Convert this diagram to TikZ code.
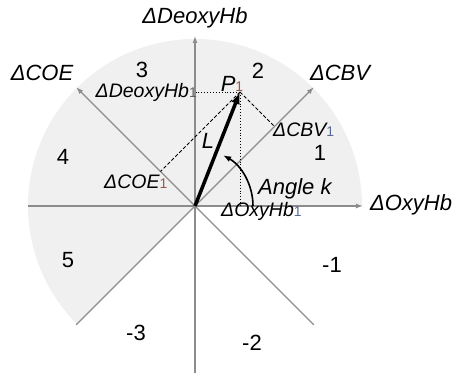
\documentclass[tikz,border=0pt]{standalone}
\usepackage{fontspec}
\setmainfont{Liberation Sans}
\usetikzlibrary{arrows.meta}
\definecolor{regiongray}{HTML}{F0F0F0}
\definecolor{axisgray}{HTML}{8C8C8C}
\definecolor{subbrown}{HTML}{9A5A4A}
\definecolor{subblue}{HTML}{5A6A9A}
\definecolor{subgray}{HTML}{606060}
\tikzset{
  axisline/.style={draw=axisgray, line width=1.3pt},
  axisarrow/.style={axisline, -{Latex[length=7pt,width=5pt]}},
  biglabel/.style={font=\fontsize{22}{24}\selectfont\itshape, inner sep=0pt},
  smalllabel/.style={font=\fontsize{19.5}{22}\selectfont\itshape, inner sep=0pt},
  numlabel/.style={font=\fontsize{22}{24}\selectfont, inner sep=0pt},
  projdot/.style={draw=black, line width=0.9pt, dotted},
  projdash/.style={draw=black, line width=0.9pt, dash pattern=on 3.5pt off 2pt},
}
\newcommand{\subone}[1]{{\upshape\fontsize{14}{16}\selectfont\textcolor{#1}{1}}}
\begin{document}
\begin{tikzpicture}[x=1pt,y=1pt]
\useasboundingbox (-195,-168) rectangle (261,206);
% shaded region
\fill[regiongray] (0,0) -- (0:167) arc[start angle=0,end angle=225,radius=167] -- cycle;
% coordinates
\coordinate (O) at (0,0);
\coordinate (xe) at (168,0);
\coordinate (xw) at (-167,0);
\coordinate (yn) at (0,170);
\coordinate (ys) at (0,-167);
\coordinate (ne) at (45:168);
\coordinate (nw) at (135:168);
\coordinate (sw) at (225:168);
\coordinate (se) at (315:168);
\coordinate (P) at (45,114);
\coordinate (Py) at (0,114);
\coordinate (Px) at (45,0);
\coordinate (Pc) at (79.5,79.5);
\coordinate (Pe) at (-34.5,34.5);
% axes
\draw[axisline] (xw) -- (O);
\draw[axisarrow] (O) -- (xe);
\draw[axisline] (ys) -- (O);
\draw[axisarrow] (O) -- (yn);
\draw[axisline] (sw) -- (O);
\draw[axisarrow] (O) -- (ne);
\draw[axisline] (se) -- (O);
\draw[axisarrow] (O) -- (nw);
% projections
\draw[projdot] (P) -- (Py);
\draw[projdot] (P) -- (Px);
\draw[projdash] (P) -- (Pc);
\draw[projdash] (P) -- (Pe);
% vector L
\draw[line width=3.5pt, -{Latex[length=12pt,width=9pt]}] (O) -- (P);
% angle
\draw[line width=1.6pt, -{Latex[length=8pt,width=6pt]}] (58,0) arc[start angle=0,end angle=61,radius=58];
% labels
\node[biglabel] (lDeoxy) at (0,188) {ΔDeoxyHb};
\node[biglabel] (lCOE) at (-153,133) {ΔCOE};
\node[biglabel] (lCBV) at (145,133) {ΔCBV};
\node[biglabel] (lOxy) at (216,1) {ΔOxyHb};
\node[numlabel] (n3) at (-53,136) {3};
\node[numlabel] (n2) at (63,135) {2};
\node[numlabel] (n1) at (125,53) {1};
\node[numlabel] (n4) at (-132,49) {4};
\node[numlabel] (n5) at (-127,-54) {5};
\node[numlabel] (nm1) at (137,-59) {-1};
\node[numlabel] (nm3) at (-59,-127) {-3};
\node[numlabel] (nm2) at (57,-137) {-2};
\node[biglabel, anchor=base] (lP) at (37,114) {P\subone{subbrown}};
\node[biglabel] (lL) at (13,65) {L};
\node[smalllabel, anchor=base east] (lDeoxy1) at (2,108) {ΔDeoxyHb\subone{subgray}};
\node[smalllabel, anchor=base west] (lCBV1) at (78,69) {ΔCBV\subone{subblue}};
\node[smalllabel, anchor=base west] (lCOE1) at (-91,17) {ΔCOE\subone{subbrown}};
\node[biglabel, anchor=base west] (lAngle) at (63,11) {Angle k};
\node[smalllabel, anchor=base west] (lOxy1) at (26,-11) {ΔOxyHb\subone{subblue}};
\end{tikzpicture}
\end{document}
